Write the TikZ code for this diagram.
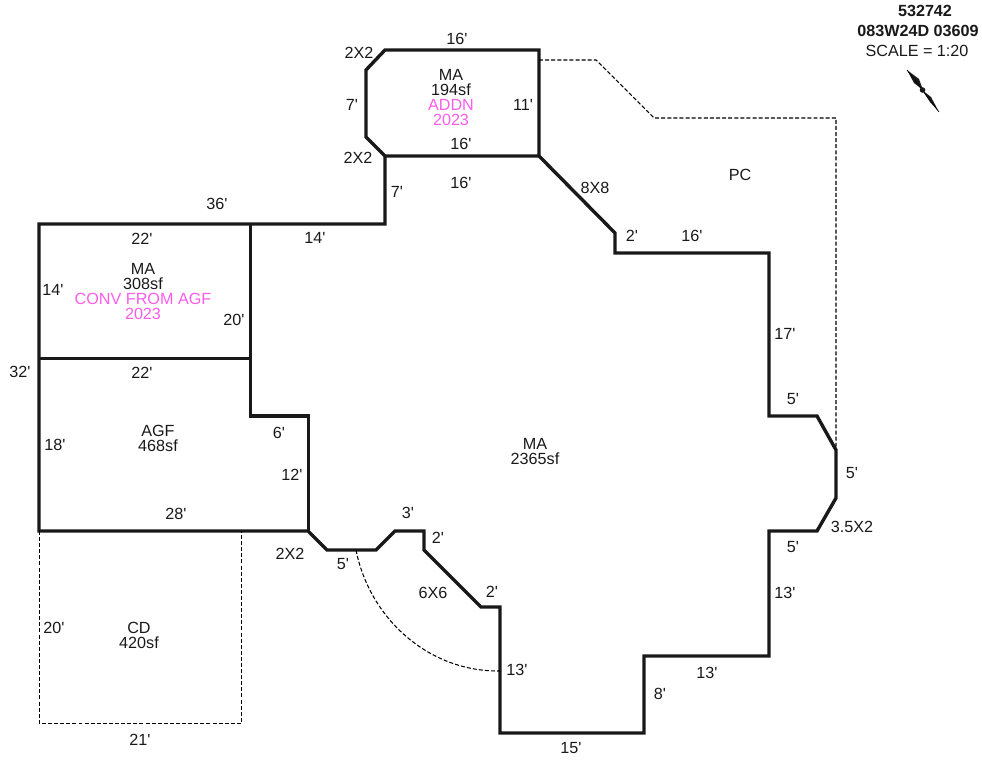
\documentclass[tikz,border=0pt]{standalone}
\usepackage{fontspec}
\usepackage{tikz}
\setmainfont{Liberation Sans}[Ligatures=TeXOff]
\definecolor{addncol}{HTML}{FB5CEB}
\tikzset{
  wall/.style={line width=2.9pt,line join=miter,black!90},
  dashwall/.style={line width=0.9pt,dash pattern=on 3.4pt off 1.8pt,black},
  lbl/.style={inner sep=0pt,align=center,yshift=-0.7pt,font=\fontsize{13.8}{12.8}\selectfont,text=black!90},
}

\begin{document}
\begin{tikzpicture}[x=0.03cm,y=-0.03cm]
      \useasboundingbox (0,0) rectangle (982,760);
      % main outline
      \draw[wall] (385,156) -- (385,224) -- (39,224) -- (39,531) -- (308,531) -- (327,550) -- (376,550)
          -- (395,531) -- (424,531) -- (424,550) -- (481,607) -- (500,607) -- (500,733) -- (644,733)
          -- (644,656) -- (769,656) -- (769,531) -- (817,531) -- (836,498) -- (836,450) -- (817,416)
          -- (769,416) -- (769,253) -- (615,253) -- (615,233) -- (539,156);
      % addition
      \draw[wall] (385,50) -- (539,50) -- (539,156) -- (385,156) -- (366,137) -- (366,70) -- cycle;
      % inner walls
      \draw[wall] (250.4,224) -- (250.4,416) -- (308.4,416) -- (308.4,531);
      \draw[wall] (39,358.4) -- (250,358.4);
      % dashed areas
      \draw[dashwall] (39.4,531) -- (39.4,723.4) -- (241.4,723.4) -- (241.4,531);
      \draw[dashwall] (539,60) -- (596,60) -- (654,118) -- (836,118) -- (836,450);
      \draw[dashwall] (356,550) .. controls (370,620) and (430,672) .. (500,671);
      % north arrow
      \fill[black!90] (907,70) -- (919,79) -- (923,90) -- (914,83) -- cycle;
      \fill[black!90] (939,112) -- (930,102) -- (922,90) -- (931,97) -- cycle;
      \draw[line width=0.5pt] (907,70) -- (939,112);
      \fill[black!90] (922.5,90) circle (2.8);
      % header
      \node[lbl,font=\fontsize{13.8}{12.8}\selectfont\bfseries] (hdrId) at (925,10) {532742};
      \node[lbl,font=\fontsize{13.8}{12.8}\selectfont\bfseries] (hdrPin) at (918,30) {083W24D 03609};
      \node[lbl] (hdrScale) at (917,50) {SCALE = 1:20};
      % area labels
      \node[lbl] (areaAddn) at (451,97) {MA\\194sf\\\textcolor{addncol}{ADDN}\\\textcolor{addncol}{2023}};
      \node[lbl] (areaConv) at (143,291) {MA\\308sf\\\textcolor{addncol}{CONV FROM AGF}\\\textcolor{addncol}{2023}};
      \node[lbl] (areaAgf) at (158,438) {AGF\\468sf};
      \node[lbl] (areaMain) at (535,451) {MA\\2365sf};
      \node[lbl] (areaCd) at (139,635) {CD\\420sf};
      \node[lbl] (areaPc) at (740,174) {PC};
      % dimensions
      \node[lbl] (dimA) at (457,38) {16'};
      \node[lbl] (dimB) at (359,52) {2X2};
      \node[lbl] (dimC) at (352,104) {7'};
      \node[lbl] (dimD) at (523,104) {11'};
      \node[lbl] (dimE) at (358,157) {2X2};
      \node[lbl] (dimF) at (461,143) {16'};
      \node[lbl] (dimG) at (461,182) {16'};
      \node[lbl] (dimH) at (397,191) {7'};
      \node[lbl] (dimI) at (595,187) {8X8};
      \node[lbl] (dimJ) at (632,235) {2'};
      \node[lbl] (dimK) at (692,235) {16'};
      \node[lbl] (dimL) at (217,203) {36'};
      \node[lbl] (dimM) at (142,238) {22'};
      \node[lbl] (dimN) at (315,237) {14'};
      \node[lbl] (dimO) at (53,289) {14'};
      \node[lbl] (dimP) at (234,319) {20'};
      \node[lbl] (dimQ) at (20,371) {32'};
      \node[lbl] (dimR) at (142,372) {22'};
      \node[lbl] (dimS) at (785,333) {17'};
      \node[lbl] (dimT) at (793,398) {5'};
      \node[lbl] (dimU) at (279,432) {6'};
      \node[lbl] (dimV) at (55,444) {18'};
      \node[lbl] (dimW) at (852,472) {5'};
      \node[lbl] (dimX) at (292,474) {12'};
      \node[lbl] (dimY) at (176,513) {28'};
      \node[lbl] (dimZ) at (408,512) {3'};
      \node[lbl] (dimAa) at (438,537) {2'};
      \node[lbl] (dimAb) at (793,546) {5'};
      \node[lbl] (dimAc) at (852,526) {3.5X2};
      \node[lbl] (dimAd) at (290,553) {2X2};
      \node[lbl] (dimAe) at (343,563) {5'};
      \node[lbl] (dimAf) at (433,592) {6X6};
      \node[lbl] (dimAg) at (492,591) {2'};
      \node[lbl] (dimAh) at (785,592) {13'};
      \node[lbl] (dimAi) at (54,627) {20'};
      \node[lbl] (dimAj) at (517,669) {13'};
      \node[lbl] (dimAk) at (707,672) {13'};
      \node[lbl] (dimAl) at (660,693) {8'};
      \node[lbl] (dimAm) at (571,747) {15'};
      \node[lbl] (dimAn) at (140,739) {21'};
  \end{tikzpicture}
\end{document}
